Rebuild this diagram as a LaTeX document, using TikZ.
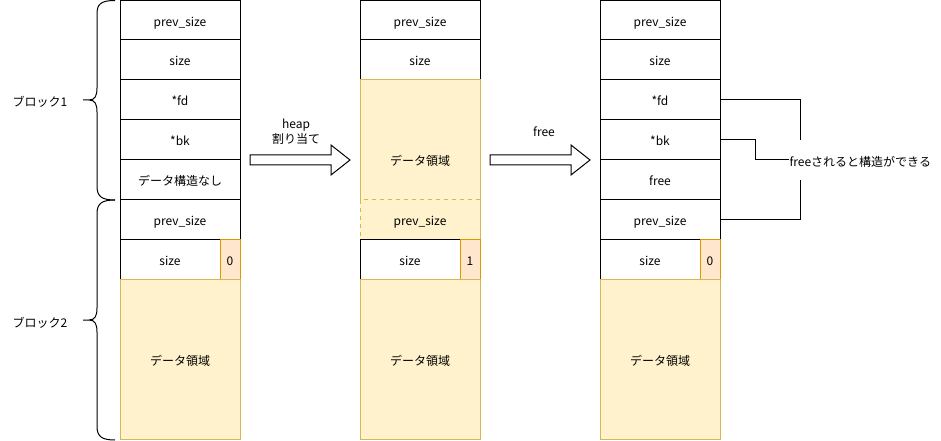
\documentclass[tikz,border=0pt]{standalone}
\usepackage{fontspec}
\setmainfont{Noto Sans CJK JP}
\definecolor{yfill}{HTML}{FFF2CC}
\definecolor{ydraw}{HTML}{D6B656}
\definecolor{ofill}{HTML}{FFE6CC}
\definecolor{odraw}{HTML}{D79B00}
\begin{document}
\begin{tikzpicture}[x=0.75pt,y=-0.75pt,line width=0.75pt,
  font=\fontsize{9}{11}\selectfont,
  cell/.style={draw=black,fill=white,minimum width=90pt,minimum height=30pt,inner sep=0pt,outer sep=0pt,anchor=north west,text height=9pt,text depth=0pt},
  sizecell/.style={cell,minimum width=75pt},
  flag/.style={cell,minimum width=15pt,fill=ofill,draw=odraw},
  data/.style={cell,fill=yfill,draw=ydraw},
  blockarrow/.style={draw=black,fill=white,line join=miter},
  lbl/.style={inner sep=0pt,align=center}]
\useasboundingbox (0,0) rectangle (941,441);
% column 1
\node[cell] (a1) at (120,0.5) {prev\_size};
\node[cell] (a2) at (120,40) {size};
\node[cell] (a3) at (120,80) {*fd};
\node[cell] (a4) at (120,120) {*bk};
\node[cell] (a5) at (120,160) {データ構造なし};
\node[cell] (a6) at (120,200) {prev\_size};
\node[sizecell] (a7) at (120,240) {size};
\node[flag] (a7f) at (220,240) {0};
\node[data,minimum height=119.25pt] (a8) at (120,280) {データ領域};
% column 2
\node[cell] (b1) at (360,0.5) {prev\_size};
\node[cell] (b2) at (360,40) {size};
\node[data,minimum height=120pt] (b3) at (360,80) {データ領域};
\node[data,dashed] (b4) at (360,200) {prev\_size};
\node[sizecell] (b5) at (360,240) {size};
\node[flag] (b5f) at (460,240) {1};
\node[data,minimum height=119.25pt] (b6) at (360,280) {データ領域};
% column 3
\node[cell] (c1) at (600,0.5) {prev\_size};
\node[cell] (c2) at (600,40) {size};
\node[cell] (c3) at (600,80) {*fd};
\node[cell] (c4) at (600,120) {*bk};
\node[cell] (c5) at (600,160) {free};
\node[cell] (c6) at (600,200) {prev\_size};
\node[sizecell] (c7) at (600,240) {size};
\node[flag] (c7f) at (700,240) {0};
\node[data,minimum height=119.25pt] (c8) at (600,280) {データ領域};
% braces
\draw (115,0.5) .. controls (101,0.5) and (97,4) .. (97,14) -- (97,88)
  .. controls (97,96) and (95,100) .. (89,100) -- (83,100)
  (89,100) .. controls (95,100) and (97,104) .. (97,112) -- (97,186)
  .. controls (97,196) and (101,200) .. (115,200);
\draw (115,200) .. controls (101,200) and (97,204) .. (97,214) -- (97,308)
  .. controls (97,316) and (95,320) .. (89,320) -- (83,320)
  (89,320) .. controls (95,320) and (97,324) .. (97,332) -- (97,426)
  .. controls (97,436) and (101,440) .. (115,440);
\node[lbl] (blk1) at (40,102) {ブロック1};
\node[lbl] (blk2) at (40,323) {ブロック2};
% arrows
\draw[blockarrow] (250,155) -- (331,155) -- (331,145) -- (350,160) -- (331,175) -- (331,165) -- (250,165) -- cycle;
\node[lbl] (alloc) at (296,132) {heap\\割り当て};
\draw[blockarrow] (490,155) -- (571,155) -- (571,145) -- (590,160) -- (571,175) -- (571,165) -- (490,165) -- cycle;
\node[lbl] (freelbl) at (544,132) {free};
% connector
\node[lbl,anchor=west] (note) at (789,162) {freeされると構造ができる};
\coordinate (t1) at (800,140);
\coordinate (t2) at (800,180);
\draw (c3.east) -| (t1);
\draw (c6.east) -| (t2);
\draw (c4.east) -- ++(35,0) |- (789,160);
\end{tikzpicture}
\end{document}
